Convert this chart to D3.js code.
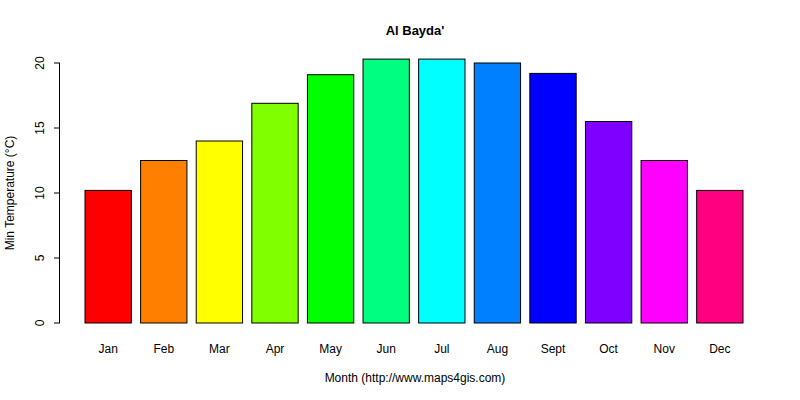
<!DOCTYPE html><html><head><meta charset="utf-8">
<script src="https://cdn.jsdelivr.net/npm/d3@7"></script>
<style>body{margin:0;background:#fff}text{font-family:"Liberation Sans",Arial,sans-serif;font-size:12px}</style>
</head><body><svg id="c" width="800" height="400"></svg>
<script>
const months=["Jan","Feb","Mar","Apr","May","Jun","Jul","Aug","Sept","Oct","Nov","Dec"];
const minTemp=[10.2,12.5,14.0,16.9,19.1,20.3,20.3,20.0,19.2,15.5,12.5,10.2];
const colors=["#FF0000","#FF8000","#FFFF00","#80FF00","#00FF00","#00FF80","#00FFFF","#0080FF","#0000FF","#8000FF","#FF00FF","#FF0080"];
const yTicks=[0,5,10,15,20];
const svg=d3.select("#c");
const x=d3.scaleLinear().domain([0.2,14.4]).range([85,743]);
const y=d3.scaleLinear().domain([0,20]).range([323,63]);
svg.selectAll("rect.b").data(minTemp).join("rect")
 .attr("x",(d,i)=>x(0.2+i*1.2)).attr("width",x(1)-x(0))
 .attr("y",d=>y(d)).attr("height",d=>y(0)-y(d))
 .attr("fill",(d,i)=>colors[i]).attr("stroke","#000").attr("stroke-width",1);
const ya=svg.append("g").attr("transform","translate(60,0)")
 .call(d3.axisLeft(y).tickValues(yTicks).tickSize(6).tickPadding(4));
ya.select(".domain").attr("d","M-0.5,"+y(0)+"V"+y(20));
ya.selectAll("text").attr("font-size",12).attr("fill","#000").attr("transform",function(d){return "rotate(-90)";})
 .attr("x",d=>-y(d)).attr("y",-20).attr("dy","0.35em").attr("text-anchor","middle");
ya.selectAll(".tick").attr("transform","translate(0,0)");
ya.selectAll(".tick line").attr("y1",d=>y(d)).attr("y2",d=>y(d));
svg.selectAll("text.m").data(months).join("text").attr("class","m")
 .attr("x",(d,i)=>x(0.7+i*1.2)).attr("y",353).attr("text-anchor","middle").text(d=>d);
svg.append("text").attr("x",415).attr("y",35).attr("text-anchor","middle").attr("font-weight","bold").style("font-size","13px").text("Al Bayda'");
svg.append("text").attr("x",415).attr("y",382).attr("text-anchor","middle").text("Month (http://www.maps4gis.com)");
svg.append("text").attr("transform","translate(14,193) rotate(-90)").attr("text-anchor","middle").text("Min Temperature (°C)");
</script></body></html>
